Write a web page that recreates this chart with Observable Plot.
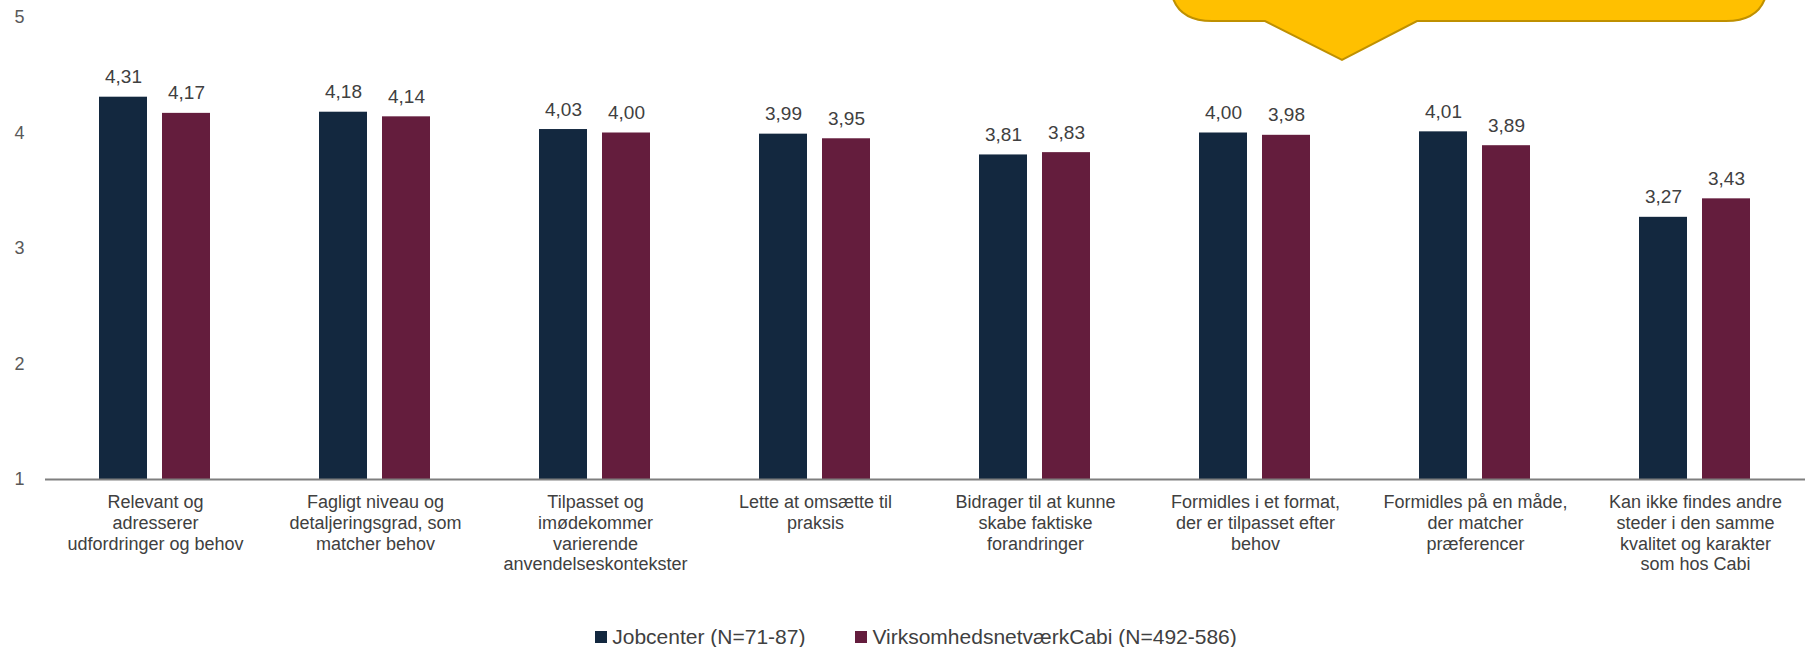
<!DOCTYPE html>
<html>
<head>
<meta charset="utf-8">
<script src="https://cdn.jsdelivr.net/npm/d3@7"></script>
<script src="https://cdn.jsdelivr.net/npm/@observablehq/plot@0.6"></script>
<style>
  html, body { margin: 0; padding: 0; background: #fff; }
  body { width: 1810px; height: 647px; position: relative; overflow: hidden; font-family: "Liberation Sans", Arial, sans-serif; }
  #chart { position: absolute; left: 0; top: 0; }
  #callout { position: absolute; left: 0; top: 0; pointer-events: none; }
  #legend { position: absolute; left: 0; top: 623px; width: 1810px; height: 28px; display: flex; justify-content: center; align-items: center; gap: 50px; font-size: 21px; color: #404040; padding-left: 22px; box-sizing: border-box; }
  #legend .item { display: flex; align-items: center; gap: 5px; }
  #legend .sw { width: 12px; height: 12px; display: inline-block; }
</style>
</head>
<body>
<div id="chart"></div>
<svg id="callout" width="1810" height="100" viewBox="0 0 1810 100">
  <path d="M1170,-60 L1170,-21 Q1170,21 1212,21 L1265,21 L1342,60 L1417,21 L1726,21 Q1768,21 1768,-21 L1768,-60"
        fill="#FFC000" stroke="#BF9000" stroke-width="2"/>
</svg>
<div id="legend"></div>
<script>
const categories = [
  "Relevant og\nadresserer\nudfordringer og behov",
  "Fagligt niveau og\ndetaljeringsgrad, som\nmatcher behov",
  "Tilpasset og\nimødekommer\nvarierende\nanvendelseskontekster",
  "Lette at omsætte til\npraksis",
  "Bidrager til at kunne\nskabe faktiske\nforandringer",
  "Formidles i et format,\nder er tilpasset efter\nbehov",
  "Formidles på en måde,\nder matcher\npræferencer",
  "Kan ikke findes andre\nsteder i den samme\nkvalitet og karakter\nsom hos Cabi"
];
const seriesNames = ["Jobcenter (N=71-87)", "VirksomhedsnetværkCabi (N=492-586)"];
const seriesColors = ["#13283F", "#641D3D"];
const jobcenter = [4.31, 4.18, 4.03, 3.99, 3.81, 4.00, 4.01, 3.27];
const cabi = [4.17, 4.14, 4.00, 3.95, 3.83, 3.98, 3.89, 3.43];
const yTicks = [1, 2, 3, 4, 5];

const data = [];
categories.forEach((c, i) => {
  data.push({cat: c, series: seriesNames[0], value: jobcenter[i]});
  data.push({cat: c, series: seriesNames[1], value: cabi[i]});
});
const fmt = v => v.toFixed(2).replace(".", ",");

const chart = Plot.plot({
  width: 1810,
  height: 622,
  marginLeft: 43,
  marginRight: 3,
  marginTop: 17,
  marginBottom: 143,
  style: {fontFamily: "'Liberation Sans', Arial, sans-serif", fontSize: "18px", color: "#404040", background: "#fff"},
  fx: {domain: categories, padding: 0, label: null, axis: null},
  x: {domain: seriesNames, paddingInner: 0.234, paddingOuter: 0.84, axis: null},
  y: {domain: [1, 5], ticks: yTicks, label: null, axis: null},
  color: {domain: seriesNames, range: seriesColors},
  marks: [
    Plot.axisY({ticks: yTicks, tickFormat: d => String(d), tickSize: 0, tickPadding: 21, fill: "#595959", fontSize: 18, label: null, textAnchor: "end"}),
    Plot.axisFx({anchor: "bottom", tickSize: 0, tickPadding: 14, fontSize: 18, fill: "#404040", lineHeight: 1.15, label: null}),
    Plot.barY(data, {fx: "cat", x: "series", y1: 1, y2: "value", fill: "series"}),
    Plot.ruleY([1], {stroke: "#7F7F7F", strokeWidth: 2}),
    Plot.text(data, {fx: "cat", x: "series", y: "value", text: d => fmt(d.value), dy: -20, fontSize: 19, fill: "#404040"})
  ]
});
document.getElementById("chart").appendChild(chart);

const legend = document.getElementById("legend");
seriesNames.forEach((s, i) => {
  const item = document.createElement("span");
  item.className = "item";
  const sw = document.createElement("span");
  sw.className = "sw";
  sw.style.background = seriesColors[i];
  const t = document.createElement("span");
  t.textContent = s;
  item.appendChild(sw);
  item.appendChild(t);
  legend.appendChild(item);
});
</script>
</body>
</html>
